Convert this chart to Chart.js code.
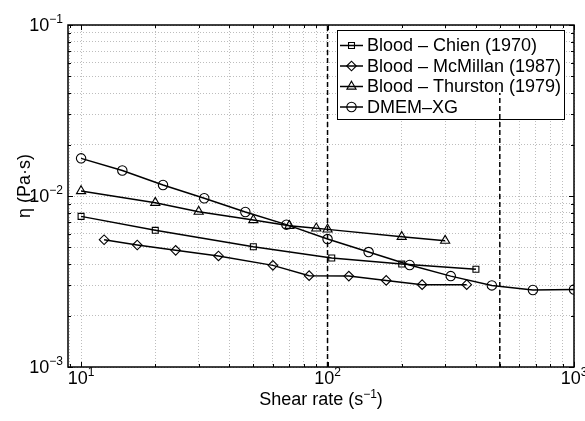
<!DOCTYPE html>
<html>
<head>
<meta charset="utf-8">
<script src="https://cdn.jsdelivr.net/npm/chart.js@4/dist/chart.umd.min.js"></script>
<style>
  html, body { margin: 0; padding: 0; background: #fff; }
  #wrap { width: 585px; height: 421px; position: relative; }
</style>
</head>
<body>
<div id="wrap"><canvas id="chart"></canvas></div>
<script>
// Viscosity data: shear rate (1/s) vs viscosity (Pa·s)
const seriesLabels = ['Blood \u2013 Chien (1970)', 'Blood \u2013 McMillan (1987)', 'Blood \u2013 Thurston (1979)', 'DMEM\u2013XG'];

const chienRate = [10, 20, 50, 104, 200, 400];
const chienVisc = [7.6e-3, 6.3e-3, 5.05e-3, 4.34e-3, 4.0e-3, 3.73e-3];

const mcmillanRate = [12.4, 16.9, 24.2, 36.1, 60, 84.2, 122, 173, 242, 367];
const mcmillanVisc = [5.55e-3, 5.17e-3, 4.81e-3, 4.46e-3, 3.93e-3, 3.42e-3, 3.4e-3, 3.21e-3, 3.03e-3, 3.03e-3];

const thurstonRate = [10, 20, 30, 50, 70, 90, 100, 200, 300];
const thurstonVisc = [1.07e-2, 9.14e-3, 8.1e-3, 7.24e-3, 6.7e-3, 6.47e-3, 6.38e-3, 5.78e-3, 5.48e-3];

const dmemRate = [10, 14.7, 21.5, 31.6, 46.4, 68.1, 100, 146.8, 215.4, 316.2, 464.2, 681.3, 1000];
const dmemVisc = [1.66e-2, 1.41e-2, 1.16e-2, 9.7e-3, 8.06e-3, 6.8e-3, 5.6e-3, 4.7e-3, 3.95e-3, 3.4e-3, 3.0e-3, 2.82e-3, 2.84e-3];

// vertical dashed reference lines
const refRates = [100, 500];
const refTop = [1e-1, 4e-2];
const refBottom = 1e-3;

// axis ranges, grid and labelled ticks
const xMin = 8.85, xMax = 1000;
const yMin = 1e-3, yMax = 1e-1;
const xGrid = [9, 10, 20, 30, 40, 50, 60, 70, 80, 90, 100, 200, 300, 400, 500, 600, 700, 800, 900, 1000];
const yGrid = [0.001, 0.002, 0.003, 0.004, 0.005, 0.006, 0.007, 0.008, 0.009,
               0.01, 0.02, 0.03, 0.04, 0.05, 0.06, 0.07, 0.08, 0.09, 0.1];
const xMajor = [10, 100, 1000];
const xMajorExp = ['1', '2', '3'];
const yMajor = [0.001, 0.01, 0.1];
const yMajorExp = ['\u22123', '\u22122', '\u22121'];

const FONT = '"Liberation Sans", Arial, Helvetica, sans-serif';

function pairs(xs, ys) {
    return xs.map((x, i) => ({ x: x, y: ys[i] }));
}

function series(label, xs, ys, style, radius) {
    return {
        label: label,
        data: pairs(xs, ys),
        borderColor: '#000',
        borderWidth: 1.5,
        backgroundColor: 'rgba(0,0,0,0)',
        pointStyle: style,
        pointRadius: radius,
        pointBorderWidth: 1.1,
        pointBorderColor: '#000',
        pointBackgroundColor: 'rgba(0,0,0,0)',
        tension: 0,
        fill: false
    };
}

function isDecade(v) {
    const l = Math.log10(v);
    return Math.abs(l - Math.round(l)) < 1e-9;
}

// draws "10" with a raised exponent
function powerLabel(ctx, base, exp, x, y, align) {
    ctx.font = '18px ' + FONT;
    const wb = ctx.measureText(base).width;
    ctx.font = '12px ' + FONT;
    const we = ctx.measureText(exp).width;
    let sx = x;
    if (align === 'center') sx = x - (wb + we) / 2;
    else if (align === 'right') sx = x - (wb + we);
    ctx.textAlign = 'left';
    ctx.textBaseline = 'alphabetic';
    ctx.font = '18px ' + FONT;
    ctx.fillText(base, sx, y);
    ctx.font = '12px ' + FONT;
    ctx.fillText(exp, sx + wb, y - 8);
}

function markerFallback(ctx, style, r, x, y) {
    ctx.beginPath();
    if (style === 'circle') ctx.arc(x, y, r, 0, Math.PI * 2);
    else if (style === 'rect') { const s = r * Math.SQRT1_2; ctx.rect(x - s, y - s, 2 * s, 2 * s); }
    else if (style === 'rectRot') { ctx.moveTo(x - r, y); ctx.lineTo(x, y - r); ctx.lineTo(x + r, y); ctx.lineTo(x, y + r); ctx.closePath(); }
    else if (style === 'triangle') {
        ctx.moveTo(x, y - r);
        ctx.lineTo(x + r * Math.sin(2 * Math.PI / 3), y - r * Math.cos(2 * Math.PI / 3));
        ctx.lineTo(x + r * Math.sin(4 * Math.PI / 3), y - r * Math.cos(4 * Math.PI / 3));
        ctx.closePath();
    }
    ctx.stroke();
}

const framePlugin = {
    id: 'frame',
    // legend box sits under the data (the 500 s^-1 line crosses it)
    beforeDatasetsDraw(chart) {
        const ctx = chart.ctx;
        const lx = 337, ly = 30, lw = 227, lh = 89;
        ctx.save();
        ctx.fillStyle = '#fff';
        ctx.fillRect(lx, ly, lw, lh);
        ctx.strokeStyle = '#000';
        ctx.lineWidth = 1;
        ctx.strokeRect(lx + 0.5, ly + 0.5, lw, lh);
        seriesLabels.forEach((label, i) => {
            const ds = chart.data.datasets[i];
            const y = ly + 15.5 + i * 20.5;
            ctx.strokeStyle = '#000';
            ctx.lineWidth = 1.5;
            ctx.beginPath();
            ctx.moveTo(lx + 3, y);
            ctx.lineTo(lx + 26, y);
            ctx.stroke();
            ctx.lineWidth = 1.1;
            ctx.fillStyle = 'rgba(0,0,0,0)';
            if (Chart.helpers && Chart.helpers.drawPoint) {
                Chart.helpers.drawPoint(ctx, { pointStyle: ds.pointStyle, radius: ds.pointRadius, rotation: 0, borderWidth: 1.1 }, lx + 14.5, y);
            } else {
                markerFallback(ctx, ds.pointStyle, ds.pointRadius, lx + 14.5, y);
            }
            ctx.fillStyle = '#000';
            ctx.font = '18px ' + FONT;
            ctx.textAlign = 'left';
            ctx.textBaseline = 'middle';
            ctx.fillText(label, lx + 30, y + 1);
        });
        ctx.restore();
    },
    afterDraw(chart) {
        const ctx = chart.ctx;
        const a = chart.chartArea;
        const xs = chart.scales.x, ys = chart.scales.y;
        ctx.save();
        ctx.strokeStyle = '#000';
        ctx.fillStyle = '#000';

        // tick marks inside on all four sides
        ctx.lineWidth = 1;
        ctx.beginPath();
        xGrid.forEach(v => {
            if (v < xMin || v > xMax) return;
            const px = Math.round(xs.getPixelForValue(v)) + 0.5;
            const len = isDecade(v) ? 5 : 3;
            ctx.moveTo(px, a.bottom); ctx.lineTo(px, a.bottom - len);
            ctx.moveTo(px, a.top); ctx.lineTo(px, a.top + len);
        });
        yGrid.forEach(v => {
            const py = Math.round(ys.getPixelForValue(v)) + 0.5;
            const len = isDecade(v) ? 5 : 3;
            ctx.moveTo(a.left, py); ctx.lineTo(a.left + len, py);
            ctx.moveTo(a.right, py); ctx.lineTo(a.right - len, py);
        });
        ctx.stroke();

        // axes box
        ctx.lineWidth = 1.5;
        ctx.strokeRect(a.left, a.top, a.right - a.left, a.bottom - a.top);

        // tick labels
        xMajor.forEach((v, i) => {
            powerLabel(ctx, '10', xMajorExp[i], xs.getPixelForValue(v), a.bottom + 17, 'center');
        });
        yMajor.forEach((v, i) => {
            powerLabel(ctx, '10', yMajorExp[i], a.left - 5, ys.getPixelForValue(v) + 6, 'right');
        });

        // x axis title with superscript
        ctx.font = '18px ' + FONT;
        const p1 = 'Shear rate (s', p3 = ')';
        const w1 = ctx.measureText(p1).width, w3 = ctx.measureText(p3).width;
        ctx.font = '12px ' + FONT;
        const p2 = '\u22121';
        const w2 = ctx.measureText(p2).width;
        let sx = (a.left + a.right) / 2 - (w1 + w2 + w3) / 2;
        const by = a.bottom + 38;
        ctx.textAlign = 'left';
        ctx.textBaseline = 'alphabetic';
        ctx.font = '18px ' + FONT;
        ctx.fillText(p1, sx, by);
        ctx.font = '12px ' + FONT;
        ctx.fillText(p2, sx + w1, by - 7);
        ctx.font = '18px ' + FONT;
        ctx.fillText(p3, sx + w1 + w2, by);

        // y axis title
        ctx.translate(25, 186);
        ctx.rotate(-Math.PI / 2);
        ctx.textAlign = 'center';
        ctx.textBaseline = 'middle';
        ctx.fillText('\u03b7 (Pa\u00b7s)', 0, 0);
        ctx.restore();
    }
};

const datasets = [
    series(seriesLabels[0], chienRate, chienVisc, 'rect', 4.2),
    series(seriesLabels[1], mcmillanRate, mcmillanVisc, 'rectRot', 4.8),
    series(seriesLabels[2], thurstonRate, thurstonVisc, 'triangle', 5.3),
    series(seriesLabels[3], dmemRate, dmemVisc, 'circle', 4.7)
];

refRates.forEach((r, i) => {
    datasets.push({
        label: 'ref' + r,
        data: [{ x: r, y: refBottom }, { x: r, y: refTop[i] }],
        borderColor: '#000',
        borderWidth: 1.5,
        borderDash: [5, 3],
        pointRadius: 0,
        fill: false
    });
});

const gridStyle = { color: '#bdbdbd', lineWidth: 1, drawTicks: false };

new Chart(document.getElementById('chart'), {
    type: 'line',
    data: { datasets: datasets },
    plugins: [framePlugin],
    options: {
        responsive: true,
        maintainAspectRatio: false,
        animation: false,
        layout: { padding: { left: 68, top: 25, right: 11, bottom: 54 } },
        plugins: {
            legend: { display: false },
            tooltip: { enabled: false }
        },
        scales: {
            x: {
                type: 'logarithmic',
                min: xMin,
                max: xMax,
                afterBuildTicks: s => { s.ticks = xGrid.map(v => ({ value: v })); },
                ticks: { display: false },
                grid: gridStyle,
                border: { display: false, dash: [1, 2] }
            },
            y: {
                type: 'logarithmic',
                min: yMin,
                max: yMax,
                afterBuildTicks: s => { s.ticks = yGrid.map(v => ({ value: v })); },
                ticks: { display: false },
                grid: gridStyle,
                border: { display: false, dash: [1, 2] }
            }
        }
    }
});
</script>
</body>
</html>
